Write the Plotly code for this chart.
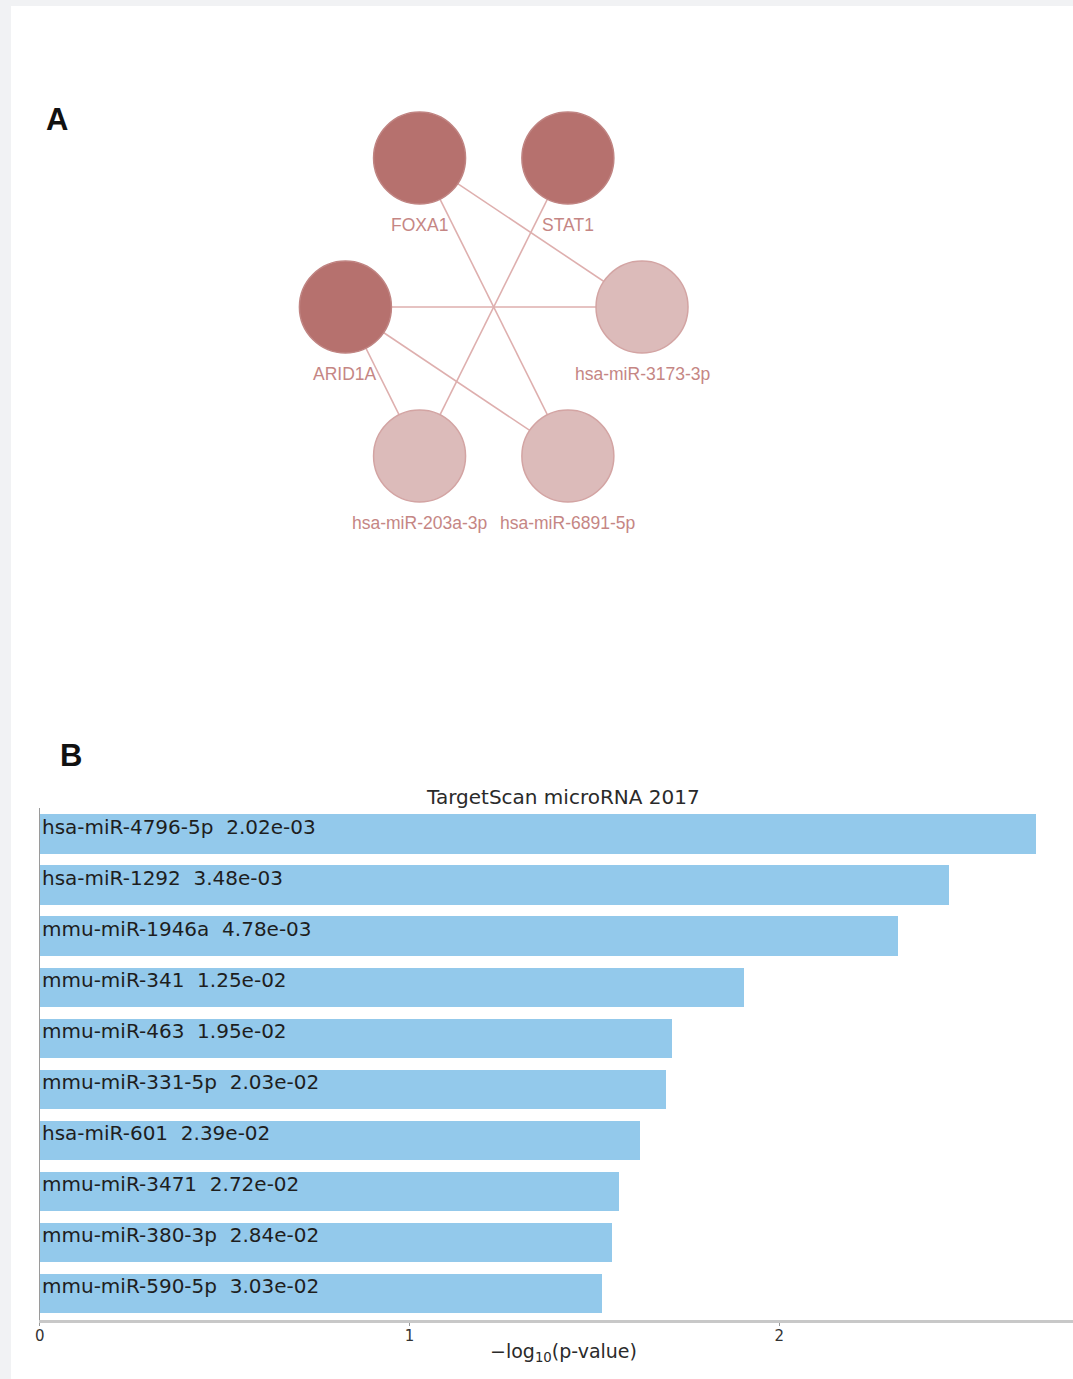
import math
import plotly.graph_objects as go

# ---------------- Panel A: gene / miRNA interaction network ----------------
node_names = ["hsa-miR-3173-3p", "STAT1", "FOXA1", "ARID1A", "hsa-miR-203a-3p", "hsa-miR-6891-5p"]
node_kinds = ["mirna", "gene", "gene", "gene", "mirna", "mirna"]
edges = [
    ("FOXA1", "hsa-miR-3173-3p"),
    ("FOXA1", "hsa-miR-6891-5p"),
    ("STAT1", "hsa-miR-203a-3p"),
    ("ARID1A", "hsa-miR-3173-3p"),
    ("ARID1A", "hsa-miR-6891-5p"),
    ("ARID1A", "hsa-miR-203a-3p"),
]

# ---------------- Panel B: TargetScan enrichment ----------------
mirnas = [
    "hsa-miR-4796-5p", "hsa-miR-1292", "mmu-miR-1946a", "mmu-miR-341", "mmu-miR-463",
    "mmu-miR-331-5p", "hsa-miR-601", "mmu-miR-3471", "mmu-miR-380-3p", "mmu-miR-590-5p",
]
p_values = [2.02e-03, 3.48e-03, 4.78e-03, 1.25e-02, 1.95e-02,
            2.03e-02, 2.39e-02, 2.72e-02, 2.84e-02, 3.03e-02]
x_ticks = [0, 1, 2]

W, H = 1073, 1379
BG = "#f1f2f4"
GENE_FILL, MIRNA_FILL = "#b6716e", "#dcbbba"
EDGE_COL = "#deafae"
LABEL_COL = "#c58684"
BAR_COL = "#93c9eb"

# circular layout for the network
n = len(node_names)
pos = {}
for i, name in enumerate(node_names):
    ang = 2 * math.pi * i / n
    pos[name] = (math.cos(ang), math.sin(ang))

fig = go.Figure()

# edges
ex, ey = [], []
for a, b in edges:
    ex += [pos[a][0], pos[b][0], None]
    ey += [pos[a][1], pos[b][1], None]
fig.add_trace(go.Scatter(x=ex, y=ey, mode="lines", xaxis="x2", yaxis="y2",
                         line=dict(color=EDGE_COL, width=1.6), hoverinfo="skip",
                         showlegend=False))

# nodes
fills = [GENE_FILL if k == "gene" else MIRNA_FILL for k in node_kinds]
outlines = ["#c08482" if k == "gene" else "#d3a4a3" for k in node_kinds]
fig.add_trace(go.Scatter(
    x=[pos[nm][0] for nm in node_names], y=[pos[nm][1] for nm in node_names],
    mode="markers", xaxis="x2", yaxis="y2", cliponaxis=False,
    marker=dict(size=92, color=fills, line=dict(color=outlines, width=1.5), opacity=1),
    text=node_names, hoverinfo="text", showlegend=False))

annotations = []
for nm in node_names:
    annotations.append(dict(x=pos[nm][0], y=pos[nm][1], xref="x2", yref="y2",
                            xanchor="center", yanchor="middle",
                            text=nm, showarrow=False, yshift=-67,
                            font=dict(family="Liberation Sans, Arial", size=17.5, color=LABEL_COL)))

# bars
scores = [-math.log10(p) for p in p_values]
fig.add_trace(go.Bar(x=scores, y=mirnas, orientation="h", marker=dict(color=BAR_COL, line=dict(width=0)),
                     width=0.77, showlegend=False, hoverinfo="x+y"))

for nm, p in zip(mirnas, p_values):
    annotations.append(dict(x=0, y=nm, xref="x", yref="y", xanchor="left", yanchor="middle",
                            xshift=0, yshift=7, showarrow=False,
                            text=f"{nm}\u00a0\u00a0{p:.2e}",
                            font=dict(family="DejaVu Sans", size=20, color="#1e1e1e")))

annotations += [
    dict(x=561 / W, y=1 - 797 / H, xref="paper", yref="paper", xanchor="center", yanchor="middle",
         text="TargetScan microRNA 2017",
         showarrow=False, font=dict(family="DejaVu Sans", size=20, color="#2a2a2a")),
    dict(x=561 / W, y=1 - 1352 / H, xref="paper", yref="paper", xanchor="center", yanchor="middle",
         text="\u2212log<sub>10</sub>(p-value)",
         showarrow=False, font=dict(family="DejaVu Sans", size=19, color="#2a2a2a")),
    dict(x=52 / W, y=1 - 120 / H, xref="paper", yref="paper", xanchor="center", yanchor="middle",
         text="<b>A</b>",
         showarrow=False, font=dict(family="Liberation Sans, Arial", size=31, color="#111111")),
    dict(x=66 / W, y=1 - 755 / H, xref="paper", yref="paper", xanchor="center", yanchor="middle",
         text="<b>B</b>",
         showarrow=False, font=dict(family="Liberation Sans, Arial", size=31, color="#111111")),
]

# network axes: centre at (491, 307) px, radius 149 px horizontally, 172 px vertically
half = 220
cx, cy = 491, 307
fig.update_layout(
    xaxis2=dict(domain=[(cx - half) / W, (cx + half) / W], range=[-half / 149, half / 149],
                visible=False, anchor="y2"),
    yaxis2=dict(domain=[1 - (cy + half) / H, 1 - (cy - half) / H], range=[-half / 172, half / 172],
                visible=False, anchor="x2"),
)

# bar axes
fig.update_layout(
    xaxis=dict(domain=[35 / W, 1.0], range=[0, (W - 35) / 371.5], tickvals=x_ticks,
               showgrid=False, zeroline=False, showline=True, linecolor="#c8c8c8", linewidth=3,
               ticks="outside", ticklen=3, tickcolor="#999999", tickwidth=1, ticklabelstandoff=-3,
               tickfont=dict(family="DejaVu Sans", size=15, color="#333333"), anchor="y"),
    yaxis=dict(domain=[1 - 1320 / H, 1 - 808 / H], range=[9.52, -0.51], type="category",
               showticklabels=False, showgrid=False, zeroline=False, showline=True,
               linecolor="#9a9a9a", linewidth=1, ticks="", anchor="x"),
)

fig.update_layout(
    width=W, height=H, margin=dict(l=0, r=0, t=0, b=0, pad=0),
    paper_bgcolor=BG, plot_bgcolor="rgba(0,0,0,0)",
    bargap=0, annotations=annotations, showlegend=False,
    shapes=[dict(type="rect", xref="paper", yref="paper", x0=6 / W, x1=1.0, y0=0, y1=1 - 6 / H,
                 fillcolor="white", line=dict(width=0), layer="below")],
)

fig.write_html("out.html")
